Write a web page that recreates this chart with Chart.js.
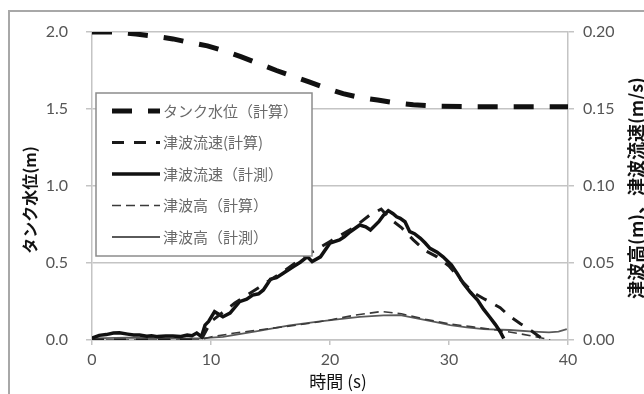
<!DOCTYPE html>
<html lang="ja">
<head>
    <meta charset="UTF-8" />
    <title>タンク水位・津波高・津波流速</title>
    <script src="https://cdn.jsdelivr.net/npm/chart.js"></script>
    <style>
        html, body { margin: 0; padding: 0; background: #fff; overflow: hidden; }
        #wrap { position: relative; width: 644px; height: 394px; }
        #frame {
            position: absolute; left: 8px; top: 10px; width: 700px; height: 500px;
            border-left: 2px solid #a8a8a8; border-top: 2px solid #a8a8a8;
        }
        #chart { position: absolute; left: 0; top: 0; }
    </style>
</head>
<body>
<div id="wrap">
    <div id="frame"></div>
    <canvas id="chart" width="644" height="394"></canvas>
</div>

<script>
    // タンク水位(計算) [m] 左軸
    const tankT     = [0, 2, 3.7, 5, 6.8, 8, 9.7, 11, 12.5, 14, 15.5, 17, 18.3, 19.7, 21.1, 22.5, 24, 25.5, 27, 29, 32, 36, 40];
    const tankLevel = [2.0, 2.0, 1.987, 1.975, 1.955, 1.935, 1.91, 1.88, 1.84, 1.795, 1.75, 1.71, 1.675, 1.635, 1.60, 1.575, 1.558, 1.54, 1.528, 1.518, 1.515, 1.515, 1.515];

    // 津波流速(計算) [m/s] 右軸
    const velCalcT = [0, 9, 9.3, 10, 12, 14, 16, 18, 20, 22, 23.4, 24.3, 25, 26, 27, 28, 29, 30, 31, 32, 33, 34.3, 35, 36, 36.6, 37.4, 38];
    const velCalc  = [0, 0, 0.002, 0.012, 0.024, 0.034, 0.044, 0.055, 0.064, 0.073, 0.0815, 0.085, 0.079, 0.073, 0.065, 0.058, 0.054, 0.048, 0.039, 0.031, 0.0265, 0.021, 0.016, 0.0105, 0.0078, 0.0033, 0];

    // 津波流速(計測) [m/s] 右軸
    const velMeasT = [0, 0.6, 1.2, 1.8, 2.3, 3.0, 3.5, 4.0, 4.6, 5.0, 5.5, 6.2, 6.8, 7.4, 8.0, 8.4, 8.8, 9.2, 9.5, 9.8, 10.3, 11.0, 11.6, 12.4, 13.0, 13.5, 14.0, 14.4, 15.0, 15.5, 16.1, 16.9, 17.5, 18.1, 18.5, 19.2, 20.0, 20.8, 21.2, 21.7, 22.5, 23.0, 23.4, 24.1, 24.5, 24.9, 25.3, 25.6, 25.9, 26.3, 26.7, 27.1, 27.6, 28.0, 28.4, 29.0, 29.5, 30.2, 30.7, 31.2, 31.8, 32.4, 32.9, 33.4, 33.9, 34.3, 34.6];
    const velMeas  = [0.0013, 0.003, 0.0035, 0.0045, 0.0047, 0.0038, 0.0032, 0.0032, 0.0024, 0.0028, 0.0022, 0.0026, 0.0026, 0.0022, 0.0032, 0.0028, 0.0045, 0.0022, 0.0097, 0.012, 0.0184, 0.0151, 0.0175, 0.0249, 0.0265, 0.0292, 0.030, 0.0325, 0.0395, 0.0405, 0.0435, 0.0476, 0.0505, 0.0541, 0.0509, 0.054, 0.063, 0.065, 0.067, 0.0703, 0.0747, 0.0735, 0.0714, 0.0768, 0.081, 0.084, 0.082, 0.080, 0.079, 0.0768, 0.0703, 0.069, 0.066, 0.063, 0.0595, 0.057, 0.054, 0.0487, 0.043, 0.0368, 0.031, 0.026, 0.020, 0.0151, 0.010, 0.0054, 0.001];

    // 津波高(計算) [m] 右軸
    const htCalcT = [0, 9, 10, 12, 14, 16, 18, 20, 22, 24.3, 26, 28, 30, 32, 34, 36, 38, 38.5];
    const htCalc  = [0, 0, 0.002, 0.0045, 0.0065, 0.0085, 0.0105, 0.013, 0.016, 0.0185, 0.017, 0.0135, 0.0105, 0.0085, 0.0065, 0.004, 0.001, 0];

    // 津波高(計測) [m] 右軸
    const htMeasT = [0, 3, 6, 9, 11, 13.9, 16.6, 19, 20.8, 22.5, 24.5, 25.9, 27.3, 28.7, 30.1, 31.5, 32.9, 35.1, 37.1, 38.4, 39.2, 39.9];
    const htMeas  = [0.001, 0.0015, 0.001, 0.001, 0.002, 0.0058, 0.0095, 0.012, 0.0135, 0.015, 0.016, 0.0162, 0.0141, 0.0119, 0.0097, 0.0082, 0.007, 0.0065, 0.0054, 0.0049, 0.0055, 0.007];

    const xTicks  = [0, 10, 20, 30, 40];
    const yTicks  = [0, 0.5, 1.0, 1.5, 2.0];
    const y2Ticks = [0, 0.05, 0.10, 0.15, 0.20];

    const labels = ['タンク水位（計算）', '津波流速(計算)', '津波流速（計測）', '津波高（計算）', '津波高（計測）'];

    function pts(xs, ys) {
        return xs.map((x, i) => ({ x: x, y: ys[i] }));
    }

    const tickFont = { family: 'Lato, "Open Sans", sans-serif', size: 16 };
    const gridColor = '#c4c4c4';

    // 凡例(枠内)と軸タイトル
    const legendBox = {
        id: 'legendBox',
        afterDatasetsDraw(chart) {
            const ctx = chart.ctx;
            ctx.save();
            // 凡例の枠
            const bx = 96, by = 93, bw = 216, bh = 163;
            ctx.fillStyle = '#fff';
            ctx.fillRect(bx, by, bw, bh);
            ctx.strokeStyle = '#8c8c8c';
            ctx.lineWidth = 1.5;
            ctx.strokeRect(bx, by, bw, bh);
            chart.data.datasets.forEach((ds, i) => {
                const y = 111 + i * 31.5;
                ctx.beginPath();
                ctx.setLineDash(ds.borderDash || []);
                ctx.lineDashOffset = 0;
                ctx.strokeStyle = ds.borderColor;
                ctx.lineWidth = ds.borderWidth;
                ctx.moveTo(112, y);
                ctx.lineTo(160, y);
                ctx.stroke();
                ctx.setLineDash([]);
                ctx.fillStyle = '#6a6a6a';
                ctx.font = '15px "Noto Sans CJK JP"';
                ctx.textBaseline = 'middle';
                ctx.textAlign = 'left';
                ctx.fillText(ds.label, 163, y);
            });

            // 軸タイトル
            ctx.fillStyle = '#111';
            ctx.font = 'bold 16px "Noto Sans CJK JP"';
            ctx.textAlign = 'center';
            ctx.textBaseline = 'middle';
            ctx.save();
            ctx.translate(30, 200);
            ctx.rotate(-Math.PI / 2);
            ctx.fillText('タンク水位(m)', 0, 0);
            ctx.restore();

            ctx.save();
            ctx.font = 'bold 18px "Noto Sans CJK JP"';
            ctx.translate(636, 188);
            ctx.rotate(-Math.PI / 2);
            ctx.fillText('津波高(m)、津波流速(m/s)', 0, 0);
            ctx.restore();

            ctx.font = '17px "Noto Sans CJK JP"';
            ctx.fillText('時間 (s)', 338, 382);
            ctx.restore();
        }
    };

    new Chart(document.getElementById('chart'), {
        type: 'line',
        data: {
            datasets: [
                {
                    label: labels[0], data: pts(tankT, tankLevel), yAxisID: 'y',
                    borderColor: '#111', borderWidth: 5, borderDash: [20, 16], borderCapStyle: 'butt'
                },
                {
                    label: labels[1], data: pts(velCalcT, velCalc), yAxisID: 'y2',
                    borderColor: '#1a1a1a', borderWidth: 3, borderDash: [12, 10]
                },
                {
                    label: labels[2], data: pts(velMeasT, velMeas), yAxisID: 'y2',
                    borderColor: '#111', borderWidth: 3.5
                },
                {
                    label: labels[3], data: pts(htCalcT, htCalc), yAxisID: 'y2',
                    borderColor: '#3a3a3a', borderWidth: 1.6, borderDash: [9, 5]
                },
                {
                    label: labels[4], data: pts(htMeasT, htMeas), yAxisID: 'y2',
                    borderColor: '#5a5a5a', borderWidth: 1.8
                }
            ]
        },
        options: {
            responsive: false,
            animation: false,
            elements: { point: { radius: 0 }, line: { tension: 0 } },
            layout: { padding: { left: 0, right: 0, top: 32, bottom: 0 } },
            plugins: { legend: { display: false }, tooltip: { enabled: false } },
            scales: {
                x: {
                    type: 'linear', min: 0, max: 40,
                    afterFit: s => { s.height = 54; },
                    afterBuildTicks: s => { s.ticks = xTicks.map(v => ({ value: v })); },
                    grid: { drawOnChartArea: false, tickLength: 5, color: gridColor, lineWidth: 1.5 },
                    border: { color: gridColor, width: 1.5 },
                    ticks: { font: tickFont, color: '#555', padding: 5, maxRotation: 0 }
                },
                y: {
                    position: 'left', min: 0, max: 2.0,
                    afterFit: s => { s.width = 92; },
                    afterBuildTicks: s => { s.ticks = yTicks.map(v => ({ value: v })); },
                    grid: { color: gridColor, lineWidth: 1.5, tickLength: 6 },
                    border: { color: gridColor, width: 1.5 },
                    ticks: { font: tickFont, color: '#555', padding: 18, callback: v => v.toFixed(1) }
                },
                y2: {
                    position: 'right', min: 0, max: 0.2,
                    afterFit: s => { s.width = 76; },
                    afterBuildTicks: s => { s.ticks = y2Ticks.map(v => ({ value: v })); },
                    grid: { drawOnChartArea: false, color: gridColor, lineWidth: 1.5, tickLength: 6 },
                    border: { color: gridColor, width: 1.5 },
                    ticks: { font: tickFont, color: '#555', padding: 9, callback: v => v.toFixed(2) }
                }
            }
        },
        plugins: [legendBox]
    });
</script>
</body>
</html>
